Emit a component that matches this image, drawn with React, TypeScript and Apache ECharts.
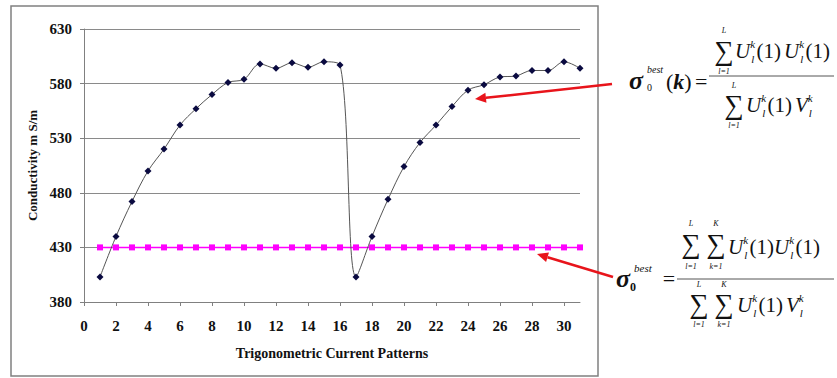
import React, { useEffect, useRef } from 'react';
import * as echarts from 'echarts';

const patterns = [1, 2, 3, 4, 5, 6, 7, 8, 9, 10, 11, 12, 13, 14, 15, 16, 17, 18, 19, 20, 21, 22, 23, 24, 25, 26, 27, 28, 29, 30, 31];
const bestPerPattern = [403, 440, 472, 500, 520, 542, 557, 570, 581, 584, 598, 594, 599, 595, 600, 597, 403, 440, 474, 504, 526, 542, 559, 574, 579, 586, 587, 592, 592, 600, 594];
const bestOverall = [430, 430, 430, 430, 430, 430, 430, 430, 430, 430, 430, 430, 430, 430, 430, 430, 430, 430, 430, 430, 430, 430, 430, 430, 430, 430, 430, 430, 430, 430, 430];
const xTicks = [0, 2, 4, 6, 8, 10, 12, 14, 16, 18, 20, 22, 24, 26, 28, 30];
const yTicks = [380, 430, 480, 530, 580, 630];
const xTitle = 'Trigonometric Current Patterns';
const yTitle = 'Conductivity m S/m';

const SERIF = "'Times New Roman', 'Liberation Serif', 'DejaVu Serif', serif";

function fnt(size: number, italic = false, bold = false) {
  return `${italic ? 'italic ' : ''}${bold ? 'bold ' : ''}${size}px ${SERIF}`;
}

let measureCtx: CanvasRenderingContext2D | null = null;
function tw(text: string, font: string) {
  if (!measureCtx) measureCtx = document.createElement('canvas').getContext('2d');
  if (!measureCtx) return text.length * 8;
  measureCtx.font = font;
  return measureCtx.measureText(text).width;
}

function T(x: number, y: number, text: string, size: number, opt: any = {}) {
  return {
    type: 'text',
    x,
    y,
    silent: true,
    style: {
      text,
      fontFamily: SERIF,
      fontSize: size,
      fontStyle: opt.italic ? 'italic' : 'normal',
      fontWeight: opt.bold ? 'bold' : 'normal',
      lineHeight: opt.lh || Math.round(size * 0.9),
      fill: '#111',
      textAlign: opt.align || 'left',
      textVerticalAlign: 'middle',
    },
  };
}

function run(x0: number, yc: number, pieces: any[]) {
  let x = x0;
  const els: any[] = [];
  for (const p of pieces) {
    if (p.sup !== undefined) {
      const f = fnt(p.size, true);
      els.push(T(x, yc - p.size * 0.65, p.sup, p.size, { italic: true }));
      els.push(T(x + 1, yc + p.size * 0.7, p.sub, p.size, { italic: true }));
      x += Math.max(tw(p.sup, f), tw(p.sub, f) + 1) + 1.5;
    } else {
      els.push(T(x, yc, p.t, p.size, { italic: p.italic, bold: p.bold, lh: Math.round(p.size * 0.75) }));
      x += tw(p.t, fnt(p.size, p.italic, p.bold)) + (p.gap || 0);
    }
  }
  return els;
}

// summation sign with its limits above and below
function sigma(cx: number, yc: number, top: string, bottom: string, up = 21, down = 21) {
  return [
    T(cx, yc, '∑', 27, { align: 'center', lh: 22 }),
    T(cx, yc - up, top, 8, { align: 'center', italic: true, lh: 8 }),
    T(cx, yc + down, bottom, 8, { align: 'center', italic: true, lh: 8 }),
  ];
}

function arrow(x1: number, y1: number, x2: number, y2: number) {
  const a = Math.atan2(y2 - y1, x2 - x1);
  const L = 11;
  const W = 5;
  const bx = x2 - L * Math.cos(a);
  const by = y2 - L * Math.sin(a);
  const px = -Math.sin(a) * W;
  const py = Math.cos(a) * W;
  return [
    { type: 'line', silent: true, shape: { x1, y1, x2: bx, y2: by }, style: { stroke: '#e8141b', lineWidth: 2.5 } },
    {
      type: 'polygon',
      silent: true,
      shape: { points: [[x2, y2], [bx + px, by + py], [bx - px, by - py]] },
      style: { fill: '#e8141b' },
    },
  ];
}

const U = { t: 'U', size: 21, italic: true };
const V = { t: 'V', size: 21, italic: true };
const KL = { sup: 'k', sub: 'l', size: 11 };
const ONE = { t: '(1)', size: 21 };

function formulas() {
  const els: any[] = [];
  // Formula 1: sigma_0^best(k)
  els.push(T(629, 80, 'σ', 26, { italic: true, bold: true }));
  els.push(T(647, 69, 'best', 10, { italic: true }));
  els.push(T(647, 87, '0', 10));
  els.push(...run(666, 81, [{ t: '(', size: 22 }, { t: 'k', size: 22, italic: true, bold: true }, { t: ')', size: 22 }]));
  els.push(T(695, 81, '=', 22));
  els.push(...sigma(724, 51, 'L', 'l=1', 21, 20));
  els.push(...run(735, 51, [U, KL, { ...ONE, gap: 3 }, U, KL, ONE]));
  els.push({ type: 'line', silent: true, shape: { x1: 709, y1: 76, x2: 834, y2: 76 }, style: { stroke: '#555', lineWidth: 1 } });
  els.push(...sigma(734, 105, 'L', 'l=1', 20, 20));
  els.push(...run(746, 105, [U, KL, { ...ONE, gap: 3 }, V, KL]));

  // Formula 2: sigma_0^best
  els.push(T(616, 278, 'σ', 26, { italic: true, bold: true }));
  els.push(T(630, 287, '0', 12, { bold: true }));
  els.push(T(634, 268, 'best', 11, { italic: true }));
  els.push(T(669, 278, '=', 22, { align: 'center' }));
  els.push(...sigma(691, 244, 'L', 'l=1', 21, 22));
  els.push(...sigma(716, 244, 'K', 'k=1', 21, 22));
  els.push(...run(728, 247, [U, KL, ONE, U, KL, ONE]));
  els.push({ type: 'line', silent: true, shape: { x1: 677, y1: 279, x2: 834, y2: 279 }, style: { stroke: '#555', lineWidth: 1 } });
  els.push(...sigma(699, 304, 'L', 'l=1', 20, 20));
  els.push(...sigma(724, 304, 'K', 'k=1', 20, 20));
  els.push(...run(737, 305, [U, KL, { ...ONE, gap: 3 }, V, KL]));

  els.push(...arrow(612, 84, 475, 99));
  els.push(...arrow(613, 277, 537, 254));
  return els;
}

export default function App() {
  const ref = useRef<HTMLDivElement>(null);
  useEffect(() => {
    if (!ref.current) return;
    const chart = echarts.init(ref.current, null, { renderer: 'svg' });
    const labelStyle = { fontFamily: SERIF, fontWeight: 'bold', fontSize: 15, color: '#111' };
    chart.setOption({
      animation: false,
      backgroundColor: '#fff',
      grid: { left: 84, right: 257, top: 29, bottom: 76 },
      xAxis: {
        type: 'value',
        min: 0,
        max: 31,
        interval: 2,
        name: xTitle,
        nameLocation: 'middle',
        nameGap: 44,
        nameTextStyle: { fontFamily: SERIF, fontWeight: 'bold', fontSize: 14, color: '#111' },
        axisLine: { show: true, onZero: false, lineStyle: { color: '#808080', width: 1 } },
        axisTick: { show: true, length: 4, customValues: xTicks, lineStyle: { color: '#808080' } },
        axisLabel: { ...labelStyle, margin: 16, customValues: xTicks },
        splitLine: { show: false },
      },
      yAxis: {
        type: 'value',
        min: yTicks[0],
        max: yTicks[yTicks.length - 1],
        interval: 50,
        name: yTitle,
        nameLocation: 'middle',
        nameGap: 42,
        nameRotate: 90,
        nameTextStyle: { fontFamily: SERIF, fontWeight: 'bold', fontSize: 13, color: '#111' },
        axisLine: { show: true, lineStyle: { color: '#808080', width: 1 } },
        axisTick: { show: true, length: 4, lineStyle: { color: '#808080' } },
        axisLabel: { ...labelStyle, margin: 12 },
        splitLine: { show: true, lineStyle: { color: '#8a8a8a', width: 1 } },
      },
      series: [
        {
          type: 'line',
          data: patterns.map((p, i) => [p, bestOverall[i]]),
          symbol: 'rect',
          symbolSize: 6,
          lineStyle: { color: '#ff00ff', width: 1.5 },
          itemStyle: { color: '#ff00ff' },
          z: 2,
        },
        {
          type: 'line',
          data: patterns.map((p, i) => [p, bestPerPattern[i]]),
          smooth: 0.35,
          symbol: 'diamond',
          symbolSize: 7,
          lineStyle: { color: '#555', width: 1 },
          itemStyle: { color: '#0a0a40' },
          z: 3,
        },
      ],
      graphic: [
        {
          type: 'rect',
          silent: true,
          shape: { x: 11, y: 6, width: 587, height: 370 },
          style: { fill: 'none', stroke: '#808080', lineWidth: 1.5 },
          z: -1,
        },
        ...formulas(),
      ],
    });
    return () => chart.dispose();
  }, []);
  return <div ref={ref} style={{ position: 'fixed', left: 0, top: 0, width: 837, height: 378 }} />;
}
